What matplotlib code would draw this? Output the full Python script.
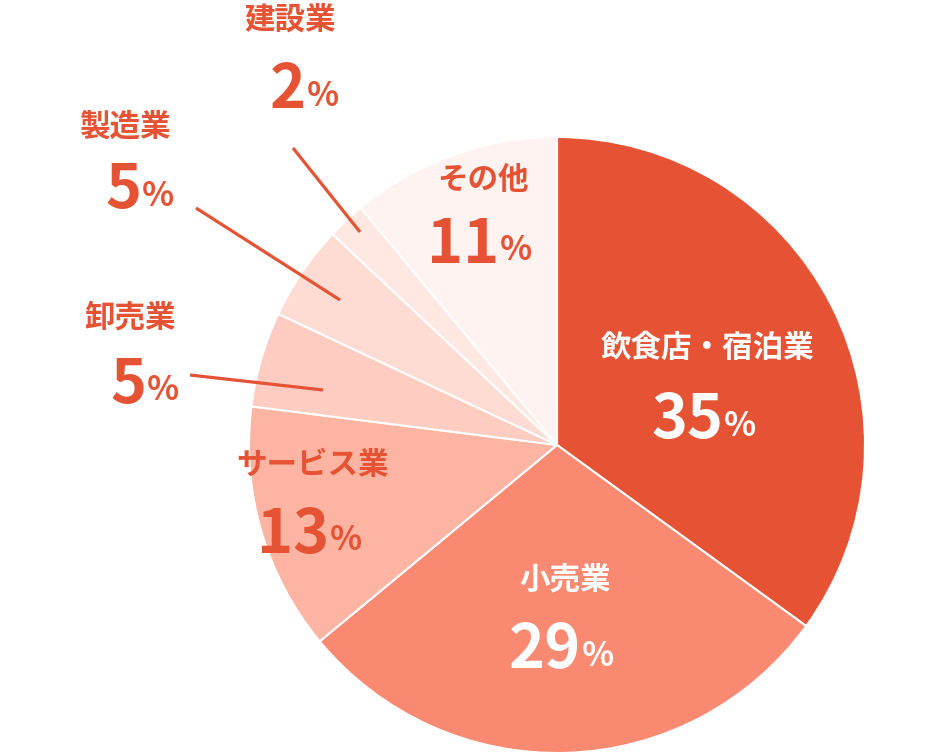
import matplotlib
matplotlib.use("Agg")
import matplotlib.pyplot as plt

plt.rcParams['font.family'] = ['Noto Sans CJK JP', 'DejaVu Sans']

# データ（上から時計回り）
labels = ["飲食店・宿泊業", "小売業", "サービス業", "卸売業", "製造業", "建設業", "その他"]
values = [35, 29, 13, 5, 5, 2, 11]
colors = ["#E65334", "#F98A71", "#FDB4A3", "#FECCC1", "#FEDCD4", "#FFE7E2", "#FFF3F1"]

# ラベル位置（画像座標: x, ラベルy, 数値y）と文字色
label_pos = [(707, 348, 420), (565, 580, 650), (313, 465, 535), (130, 318, 385),
             (125, 127, 190), (290, 20, 90), (483, 180, 245)]
text_colors = ["white", "white", "#E65334", "#E65334", "#E65334", "#E65334", "#E65334"]
# 引き出し線（画像座標）
leaders = [((190, 375), (323, 390)), ((196, 208), (340, 300)), ((293, 148), (360, 232))]

W, H = 934, 756
fig = plt.figure(figsize=(W / 100, H / 100), dpi=100)
ax = fig.add_axes([0, 0, 1, 1])

ax.pie(values, colors=colors, startangle=90, counterclock=False,
       center=(557, H - 445), radius=308,
       wedgeprops=dict(edgecolor='white', linewidth=1.5))
ax.set_xlim(0, W)
ax.set_ylim(0, H)
ax.set_aspect('equal')
ax.axis('off')

for (x0, y0), (x1, y1) in leaders:
    ax.plot([x0, x1], [H - y0, H - y1], color="#E65334", lw=2.3, solid_capstyle='butt')

for lab, v, (x, ly, vy), c in zip(labels, values, label_pos, text_colors):
    ax.text(x, H - ly, lab, ha='center', va='center', fontsize=22,
            fontweight='bold', color=c)
    xa = x + 16
    ax.text(xa, H - vy, str(v), ha='right', va='center', fontsize=44,
            fontweight='bold', color=c)
    ax.text(xa + 1, H - vy - 6, "%", ha='left', va='center', fontsize=24,
            fontweight='bold', color=c)

fig.savefig("out.png", dpi=100, facecolor='white')
